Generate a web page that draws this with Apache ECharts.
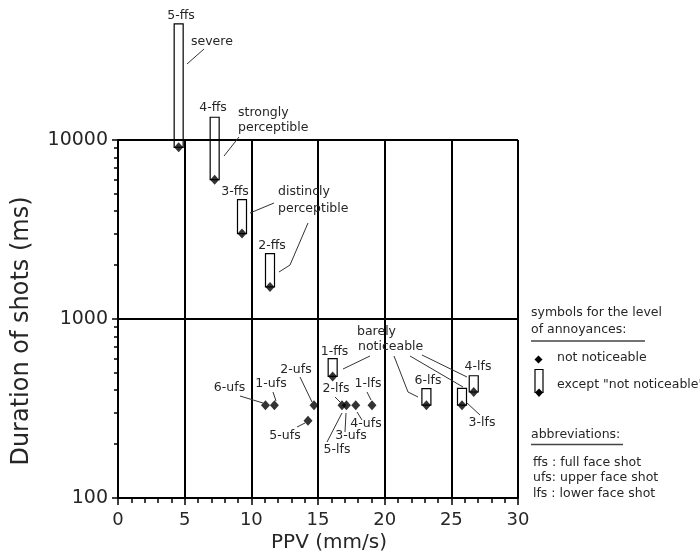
<!DOCTYPE html>
<html><head><meta charset="utf-8">
<script src="https://cdn.jsdelivr.net/npm/echarts@6/dist/echarts.min.js"></script>
<style>html,body{margin:0;padding:0;background:#fff}#c{width:700px;height:555px}</style>
</head><body><div id="c"></div>
<script>
// ---- data ----
const xTickValues = [0, 5, 10, 15, 20, 25, 30];
const yTickValues = [100, 1000, 10000];
const yMinorTickValues = [200, 300, 400, 500, 600, 700, 800, 900, 2000, 3000, 4000, 5000, 6000, 7000, 8000, 9000];
const shotNames = ['5-ffs', '4-ffs', '3-ffs', '2-ffs', '1-ffs', '6-ufs', '1-ufs', '2-ufs', '5-ufs', '2-lfs', '3-ufs', '4-ufs', '1-lfs', '6-lfs', '3-lfs', '4-lfs'];
const ppv = [4.55, 7.25, 9.3, 11.4, 16.1, 11.06, 11.73, 14.7, 14.25, 16.8, 17.13, 17.83, 19.05, 23.13, 25.8, 26.68];
const duration = [9100, 6000, 3000, 1510, 478, 330, 330, 330, 270, 330, 330, 330, 330, 330, 330, 391];
// top of the annoyance bar (null = "not noticeable")
const annoyanceTop = [44500, 13400, 4640, 2320, 600, null, null, null, null, null, null, null, null, 408, 410, 482];

// ---- chart ----
const TXT = '#262626';
const FONT = '"DejaVu Sans"';
const chart = echarts.init(document.getElementById('c'));

const scatterData = shotNames.map((n, i) => ({ name: n, value: [ppv[i], duration[i]] }));
const barData = [];
shotNames.forEach((n, i) => { if (annoyanceTop[i] != null) barData.push({ name: n, value: [ppv[i], duration[i], annoyanceTop[i]] }); });

function label(text, x, y, align) {
  return { type: 'text', x: x, y: y, silent: true, z: 100,
    style: { text: text, fill: TXT, font: '12.5px ' + FONT, align: align || 'center', verticalAlign: 'middle' } };
}
function leader(points) {
  return { type: 'polyline', silent: true, z: 100, shape: { points: points },
    style: { stroke: '#333', lineWidth: 1, fill: null } };
}
const graphics = [
  // axis titles
  { type: 'text', x: 329, y: 543, silent: true,
    style: { text: 'PPV (mm/s)', fill: TXT, font: '20px ' + FONT, align: 'center', verticalAlign: 'middle' } },
  { type: 'text', x: 22, y: 331, rotation: Math.PI / 2, silent: true,
    style: { text: 'Duration of shots (ms)', fill: TXT, font: '24px ' + FONT, align: 'center', verticalAlign: 'middle' } },
  // point labels
  label('5-ffs', 181, 16), label('severe', 191, 42, 'left'), leader([[187, 64], [204, 49]]),
  label('4-ffs', 213, 108), label('strongly', 238, 113, 'left'), label('perceptible', 238, 128, 'left'),
  leader([[224, 156], [239, 137]]),
  label('3-ffs', 235, 192), label('distincly', 278, 192, 'left'), label('perceptible', 278, 209, 'left'),
  leader([[250, 213], [274, 203]]),
  label('2-ffs', 272, 246), leader([[279, 272], [290, 265], [308, 223]]),
  label('6-ufs', 229.5, 388), leader([[240, 396], [263, 403]]),
  label('1-ufs', 271, 384), leader([[273, 392], [276, 401]]),
  label('2-ufs', 296, 370), leader([[300, 377], [312, 402]]),
  label('5-ufs', 285, 436), leader([[297, 427], [305, 423]]),
  label('1-ffs', 334.5, 352),
  label('barely', 357, 332, 'left'), label('noticeable', 358, 347, 'left'),
  leader([[343, 369], [370, 356]]),
  leader([[394, 356], [408, 392], [418, 397]]),
  leader([[410, 356], [463, 387]]),
  leader([[422, 355], [467, 377]]),
  label('6-lfs', 428, 381), label('4-lfs', 478, 367),
  label('3-lfs', 482, 423), leader([[467, 403], [480, 415]]),
  label('2-lfs', 336, 389), leader([[335, 397], [341, 403]]),
  label('1-lfs', 368, 384), leader([[367, 392], [371, 400]]),
  label('4-ufs', 366, 424), leader([[362, 420], [357, 412]]),
  label('3-ufs', 351, 436), leader([[345, 432], [346, 413]]),
  label('5-lfs', 337, 450), leader([[327, 442], [342, 413]]),
  // legend block
  label('symbols for the level', 531, 313, 'left'),
  label('of annoyances:', 531, 330, 'left'),
  { type: 'line', silent: true, shape: { x1: 531, y1: 341, x2: 645, y2: 341 }, style: { stroke: '#444', lineWidth: 1.5 } },
  { type: 'polygon', silent: true, shape: { points: [[538.5, 355.5], [542.5, 359.5], [538.5, 363.5], [534.5, 359.5]] }, style: { fill: '#000' } },
  label('not noticeable', 557, 358, 'left'),
  { type: 'rect', silent: true, shape: { x: 535, y: 369.5, width: 8, height: 23 }, style: { fill: null, stroke: '#000', lineWidth: 1.2 } },
  { type: 'polygon', silent: true, shape: { points: [[539, 388.5], [543, 392.5], [539, 397], [535, 392.5]] }, style: { fill: '#000' } },
  label('except "not noticeable"', 557, 385, 'left'),
  label('abbreviations:', 531, 435, 'left'),
  { type: 'line', silent: true, shape: { x1: 531, y1: 444.5, x2: 623, y2: 444.5 }, style: { stroke: '#444', lineWidth: 1.5 } },
  label('ffs : full face shot', 533, 463, 'left'),
  label('ufs: upper face shot', 533, 478, 'left'),
  label('lfs : lower face shot', 533, 494, 'left')
];

const axisLineStyle = { color: '#000', width: 2 };
chart.setOption({
  backgroundColor: '#fff',
  animation: false,
  grid: { left: 118, top: 140, width: 400, height: 358, containLabel: false },
  xAxis: {
    type: 'value', min: xTickValues[0], max: xTickValues[xTickValues.length - 1], interval: 5,
    axisLine: { lineStyle: axisLineStyle },
    axisTick: { length: 7, lineStyle: { color: '#000', width: 1.5 } },
    minorTick: { show: true, splitNumber: 5, length: 5, lineStyle: { color: '#000', width: 1.5 } },
    splitLine: { show: true, lineStyle: { color: '#000', width: 2 } },
    axisLabel: { color: TXT, fontFamily: FONT, fontSize: 18, margin: 13 }
  },
  yAxis: [{
    type: 'log', logBase: 10, min: yTickValues[0], max: yTickValues[yTickValues.length - 1], position: 'left',
    axisLine: { lineStyle: axisLineStyle },
    axisTick: { length: 6, lineStyle: { color: '#000', width: 1.5 } },
    splitLine: { show: true, lineStyle: { color: '#000', width: 2 } },
    axisLabel: { color: TXT, fontFamily: FONT, fontSize: 19, margin: 10, formatter: function (v) { return String(Math.round(v)); } }
  }, {
    type: 'log', logBase: 10, min: yTickValues[0], max: yTickValues[yTickValues.length - 1], position: 'left',
    axisLine: { show: false },
    axisTick: { show: true, length: 4, customValues: yMinorTickValues, lineStyle: { color: '#000', width: 1.5 } },
    splitLine: { show: false },
    axisLabel: { show: false }
  }],
  series: [{
    type: 'custom', name: 'annoyance', clip: false, z: 5,
    data: barData,
    renderItem: function (params, api) {
      const b = api.coord([api.value(0), api.value(1)]);
      const t = api.coord([api.value(0), api.value(2)]);
      return { type: 'rect', shape: { x: b[0] - 4.5, y: t[1], width: 9, height: b[1] - t[1] },
        style: { fill: 'none', stroke: '#000', lineWidth: 1.2 } };
    }
  }, {
    type: 'scatter', name: 'shots', clip: false, z: 6,
    symbol: 'diamond', symbolSize: [9, 10],
    itemStyle: { color: '#000' },
    data: scatterData
  }],
  graphic: graphics
});
</script></body></html>
